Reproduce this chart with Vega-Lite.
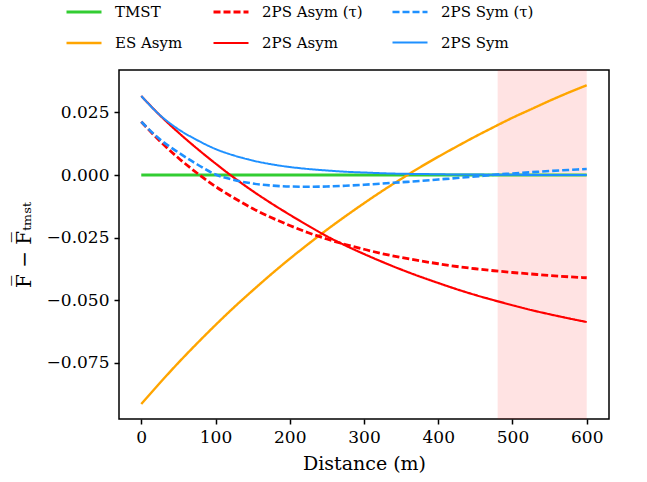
{
  "$schema": "https://vega.github.io/schema/vega-lite/v6.json",
  "width": 490,
  "height": 349,
  "autosize": "none",
  "padding": {"left": 119, "top": 70, "right": 38, "bottom": 63},
  "background": "white",
  "config": {
    "view": {"stroke": "black", "strokeWidth": 1.5},
    "font": "DejaVu Serif",
    "axis": {
      "domain": false, "grid": false, "tickColor": "black", "tickSize": 5, "tickWidth": 1.5,
      "labelFont": "DejaVu Serif", "labelFontSize": 17, "labelColor": "black",
      "titleFont": "DejaVu Serif", "titleFontSize": 19, "titleFontWeight": "normal", "titleColor": "black"
    },
    "legend": {
      "labelFont": "DejaVu Serif", "labelFontSize": 15, "labelColor": "black",
      "symbolStrokeWidth": 2, "symbolType": "stroke", "symbolSize": 1225, "labelOffset": 12,
      "columnPadding": 24, "rowPadding": 4
    }
  },
  "datasets": {
    "band": [{"start": 480, "end": 600}],
    "lines": [
      {"d":0,"v":0,"s":"TMST"},{"d":600,"v":0,"s":"TMST"},
      {"d":0,"v":-0.0916,"s":"ES Asym"},{"d":25,"v":-0.0832,"s":"ES Asym"},{"d":50,"v":-0.0751,"s":"ES Asym"},{"d":75,"v":-0.0674,"s":"ES Asym"},{"d":100,"v":-0.0600,"s":"ES Asym"},{"d":125,"v":-0.0529,"s":"ES Asym"},{"d":150,"v":-0.0462,"s":"ES Asym"},{"d":175,"v":-0.0397,"s":"ES Asym"},{"d":200,"v":-0.0335,"s":"ES Asym"},{"d":225,"v":-0.0276,"s":"ES Asym"},{"d":250,"v":-0.0219,"s":"ES Asym"},{"d":275,"v":-0.0165,"s":"ES Asym"},{"d":300,"v":-0.0113,"s":"ES Asym"},{"d":325,"v":-0.0063,"s":"ES Asym"},{"d":350,"v":-0.0016,"s":"ES Asym"},{"d":375,"v":0.0030,"s":"ES Asym"},{"d":400,"v":0.0073,"s":"ES Asym"},{"d":425,"v":0.0114,"s":"ES Asym"},{"d":450,"v":0.0154,"s":"ES Asym"},{"d":475,"v":0.0192,"s":"ES Asym"},{"d":500,"v":0.0229,"s":"ES Asym"},{"d":525,"v":0.0263,"s":"ES Asym"},{"d":550,"v":0.0297,"s":"ES Asym"},{"d":575,"v":0.0329,"s":"ES Asym"},{"d":600,"v":0.0359,"s":"ES Asym"},
      {"d":0,"v":0.0213,"s":"2PS Asym (τ)"},{"d":25,"v":0.0136,"s":"2PS Asym (τ)"},{"d":50,"v":0.0068,"s":"2PS Asym (τ)"},{"d":75,"v":0.0008,"s":"2PS Asym (τ)"},{"d":100,"v":-0.0046,"s":"2PS Asym (τ)"},{"d":125,"v":-0.0092,"s":"2PS Asym (τ)"},{"d":150,"v":-0.0134,"s":"2PS Asym (τ)"},{"d":175,"v":-0.0170,"s":"2PS Asym (τ)"},{"d":200,"v":-0.0202,"s":"2PS Asym (τ)"},{"d":225,"v":-0.0231,"s":"2PS Asym (τ)"},{"d":250,"v":-0.0256,"s":"2PS Asym (τ)"},{"d":275,"v":-0.0278,"s":"2PS Asym (τ)"},{"d":300,"v":-0.0297,"s":"2PS Asym (τ)"},{"d":325,"v":-0.0315,"s":"2PS Asym (τ)"},{"d":350,"v":-0.0330,"s":"2PS Asym (τ)"},{"d":375,"v":-0.0343,"s":"2PS Asym (τ)"},{"d":400,"v":-0.0355,"s":"2PS Asym (τ)"},{"d":425,"v":-0.0366,"s":"2PS Asym (τ)"},{"d":450,"v":-0.0375,"s":"2PS Asym (τ)"},{"d":475,"v":-0.0383,"s":"2PS Asym (τ)"},{"d":500,"v":-0.0390,"s":"2PS Asym (τ)"},{"d":525,"v":-0.0396,"s":"2PS Asym (τ)"},{"d":550,"v":-0.0402,"s":"2PS Asym (τ)"},{"d":575,"v":-0.0407,"s":"2PS Asym (τ)"},{"d":600,"v":-0.0411,"s":"2PS Asym (τ)"},
      {"d":0,"v":0.0316,"s":"2PS Asym"},{"d":25,"v":0.0239,"s":"2PS Asym"},{"d":50,"v":0.0170,"s":"2PS Asym"},{"d":75,"v":0.0106,"s":"2PS Asym"},{"d":100,"v":0.0046,"s":"2PS Asym"},{"d":125,"v":-0.0011,"s":"2PS Asym"},{"d":150,"v":-0.0064,"s":"2PS Asym"},{"d":175,"v":-0.0113,"s":"2PS Asym"},{"d":200,"v":-0.0159,"s":"2PS Asym"},{"d":225,"v":-0.0203,"s":"2PS Asym"},{"d":250,"v":-0.0245,"s":"2PS Asym"},{"d":275,"v":-0.0282,"s":"2PS Asym"},{"d":300,"v":-0.0316,"s":"2PS Asym"},{"d":325,"v":-0.0348,"s":"2PS Asym"},{"d":350,"v":-0.0378,"s":"2PS Asym"},{"d":375,"v":-0.0406,"s":"2PS Asym"},{"d":400,"v":-0.0432,"s":"2PS Asym"},{"d":425,"v":-0.0457,"s":"2PS Asym"},{"d":450,"v":-0.0480,"s":"2PS Asym"},{"d":475,"v":-0.0501,"s":"2PS Asym"},{"d":500,"v":-0.0521,"s":"2PS Asym"},{"d":525,"v":-0.0540,"s":"2PS Asym"},{"d":550,"v":-0.0557,"s":"2PS Asym"},{"d":575,"v":-0.0573,"s":"2PS Asym"},{"d":600,"v":-0.0588,"s":"2PS Asym"},
      {"d":0,"v":0.0213,"s":"2PS Sym (τ)"},{"d":25,"v":0.0143,"s":"2PS Sym (τ)"},{"d":50,"v":0.0090,"s":"2PS Sym (τ)"},{"d":75,"v":0.0043,"s":"2PS Sym (τ)"},{"d":100,"v":0.0002,"s":"2PS Sym (τ)"},{"d":125,"v":-0.0020,"s":"2PS Sym (τ)"},{"d":150,"v":-0.0034,"s":"2PS Sym (τ)"},{"d":175,"v":-0.0042,"s":"2PS Sym (τ)"},{"d":200,"v":-0.0046,"s":"2PS Sym (τ)"},{"d":225,"v":-0.0047,"s":"2PS Sym (τ)"},{"d":250,"v":-0.0046,"s":"2PS Sym (τ)"},{"d":275,"v":-0.0043,"s":"2PS Sym (τ)"},{"d":300,"v":-0.0039,"s":"2PS Sym (τ)"},{"d":325,"v":-0.0034,"s":"2PS Sym (τ)"},{"d":350,"v":-0.0029,"s":"2PS Sym (τ)"},{"d":375,"v":-0.0024,"s":"2PS Sym (τ)"},{"d":400,"v":-0.0018,"s":"2PS Sym (τ)"},{"d":425,"v":-0.0012,"s":"2PS Sym (τ)"},{"d":450,"v":-0.0006,"s":"2PS Sym (τ)"},{"d":475,"v":0.0001,"s":"2PS Sym (τ)"},{"d":500,"v":0.0006,"s":"2PS Sym (τ)"},{"d":525,"v":0.0011,"s":"2PS Sym (τ)"},{"d":550,"v":0.0016,"s":"2PS Sym (τ)"},{"d":575,"v":0.0020,"s":"2PS Sym (τ)"},{"d":600,"v":0.0024,"s":"2PS Sym (τ)"},
      {"d":0,"v":0.0316,"s":"2PS Sym"},{"d":25,"v":0.0240,"s":"2PS Sym"},{"d":50,"v":0.0183,"s":"2PS Sym"},{"d":75,"v":0.0140,"s":"2PS Sym"},{"d":100,"v":0.0104,"s":"2PS Sym"},{"d":125,"v":0.0078,"s":"2PS Sym"},{"d":150,"v":0.0058,"s":"2PS Sym"},{"d":175,"v":0.0043,"s":"2PS Sym"},{"d":200,"v":0.0032,"s":"2PS Sym"},{"d":225,"v":0.0024,"s":"2PS Sym"},{"d":250,"v":0.0018,"s":"2PS Sym"},{"d":275,"v":0.0013,"s":"2PS Sym"},{"d":300,"v":0.0010,"s":"2PS Sym"},{"d":325,"v":0.0007,"s":"2PS Sym"},{"d":350,"v":0.0005,"s":"2PS Sym"},{"d":375,"v":0.0004,"s":"2PS Sym"},{"d":400,"v":0.0003,"s":"2PS Sym"},{"d":425,"v":0.0002,"s":"2PS Sym"},{"d":450,"v":0.0002,"s":"2PS Sym"},{"d":475,"v":0.0001,"s":"2PS Sym"},{"d":500,"v":0.0001,"s":"2PS Sym"},{"d":525,"v":0.0000,"s":"2PS Sym"},{"d":550,"v":0.0000,"s":"2PS Sym"},{"d":575,"v":0.0000,"s":"2PS Sym"},{"d":600,"v":0.0000,"s":"2PS Sym"}
    ]
  },
  "layer": [
    {
      "data": {"name": "band"},
      "mark": {"type": "rect", "color": "#ff0000", "opacity": 0.11},
      "encoding": {
        "x": {"field": "start", "type": "quantitative", "scale": {"domain": [-30, 630], "nice": false, "zero": false}},
        "x2": {"field": "end"}
      }
    },
    {
      "data": {"name": "lines"},
      "mark": {"type": "line", "interpolate": "monotone"},
      "encoding": {
        "x": {
          "field": "d", "type": "quantitative", "title": "Distance (m)",
          "scale": {"domain": [-30, 630], "nice": false, "zero": false},
          "axis": {"values": [0, 100, 200, 300, 400, 500, 600], "labelPadding": 5, "titlePadding": 9, "labelFlush": false}
        },
        "y": {
          "field": "v", "type": "quantitative", "title": "F̅ − F̅ₜₘₛₜ",
          "scale": {"domain": [-0.0976, 0.042], "nice": false, "zero": false},
          "axis": {"values": [-0.075, -0.05, -0.025, 0, 0.025], "format": ".3f", "labelPadding": 5, "titlePadding": 12, "labelFlush": false, "titleFontSize": 20}
        },
        "color": {
          "field": "s", "type": "nominal", "title": null, "sort": null,
          "scale": {
            "domain": ["TMST", "2PS Asym (τ)", "2PS Sym (τ)", "ES Asym", "2PS Asym", "2PS Sym"],
            "range": ["#32cd32", "#ff0000", "#1e90ff", "#ffa500", "#ff0000", "#1e90ff"]
          },
          "legend": {"orient": "none", "legendX": -54, "legendY": -77, "columns": 3, "direction": "horizontal", "labelFont": "DejaVu Serif", "labelFontSize": 15, "symbolStrokeWidth": 2, "labelOffset": 12, "columnPadding": 24, "rowPadding": 4}
        },
        "strokeDash": {
          "field": "s", "type": "nominal", "title": null, "sort": null,
          "scale": {
            "domain": ["TMST", "2PS Asym (τ)", "2PS Sym (τ)", "ES Asym", "2PS Asym", "2PS Sym"],
            "range": [[1, 0], [7, 3], [7, 3], [1, 0], [1, 0], [1, 0]]
          },
          "legend": {"orient": "none", "legendX": -54, "legendY": -77, "columns": 3, "direction": "horizontal", "labelFont": "DejaVu Serif", "labelFontSize": 15, "symbolStrokeWidth": 2, "labelOffset": 12, "columnPadding": 24, "rowPadding": 4}
        },
        "strokeWidth": {
          "field": "s", "type": "nominal", "legend": null,
          "scale": {
            "domain": ["TMST", "2PS Asym (τ)", "2PS Sym (τ)", "ES Asym", "2PS Asym", "2PS Sym"],
            "range": [3, 2, 2, 2, 2, 2]
          }
        }
      }
    }
  ]
}
